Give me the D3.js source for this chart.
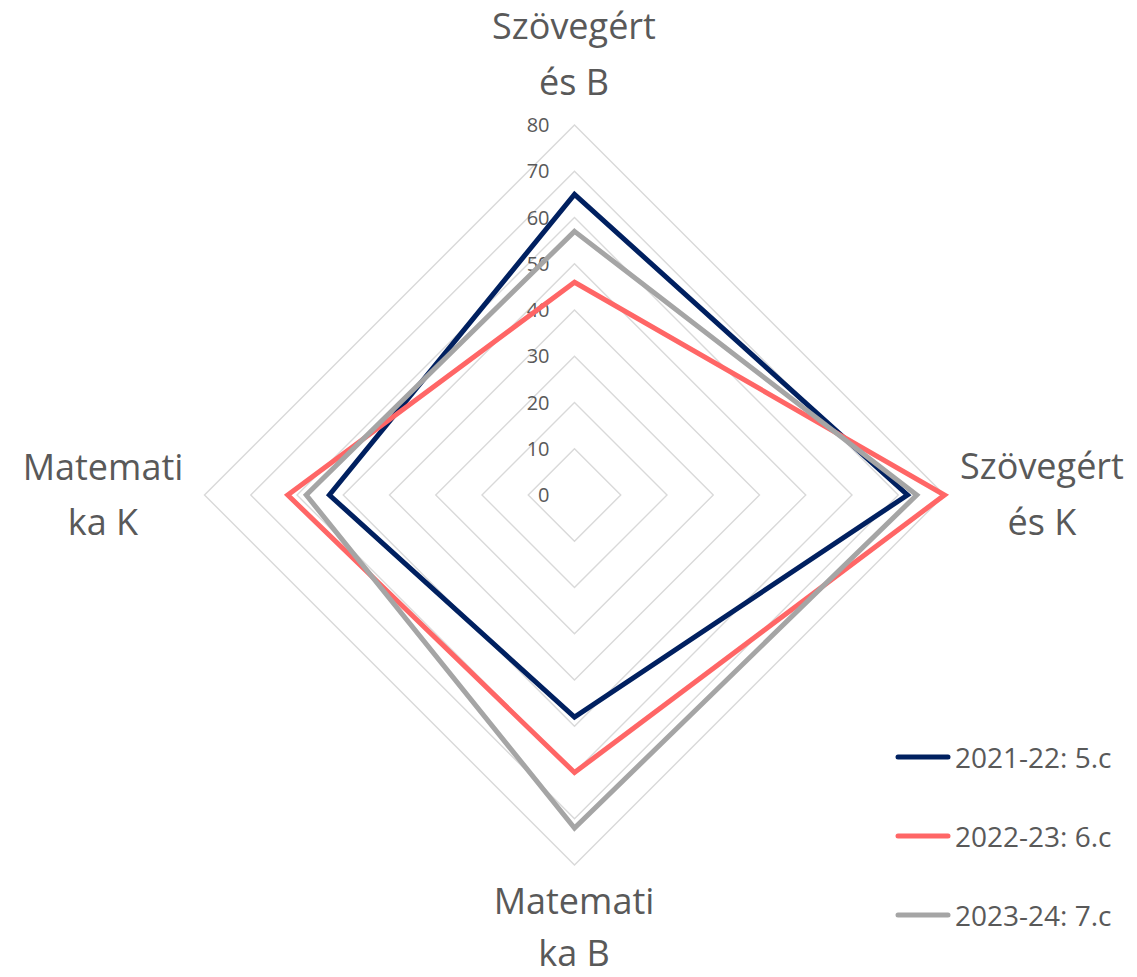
<!DOCTYPE html>
<html>
<head>
<meta charset="utf-8">
<script src="https://cdn.jsdelivr.net/npm/d3@7"></script>
<style>
  html, body { margin: 0; padding: 0; background: #fff; }
  svg { display: block; }
  text { font-family: "Open Sans", "Noto Sans", sans-serif; fill: #595959; }
</style>
</head>
<body>
<svg id="chart" width="1137" height="977"></svg>
<script>
// ---- data ----
const axisLabels = [["Szövegért", "és B"], ["Szövegért", "és K"], ["Matemati", "ka B"], ["Matemati", "ka K"]];
const seriesNames = ["2021-22: 5.c", "2022-23: 6.c", "2023-24: 7.c"];
const series2021 = [65, 72, 48, 53];
const series2022 = [46, 80, 60, 62];
const series2023 = [57, 74, 72, 58];
const tickValues = [0, 10, 20, 30, 40, 50, 60, 70, 80];
const seriesColors = ["#002060", "#FF6666", "#A5A5A5"];

const allSeries = [series2021, series2022, series2023];

// ---- layout ----
const svg = d3.select("#chart");
const cx = 574.5, cy = 495, R = 370;
const r = d3.scaleLinear().domain([0, 80]).range([0, R]);
const angle = d3.scaleLinear().domain([0, axisLabels.length]).range([0, 2 * Math.PI]);
const pt = (i, v) => [cx + r(v) * Math.sin(angle(i)), cy - r(v) * Math.cos(angle(i))];

const g = svg.append("g");

// grid diamonds
const line = d3.line().curve(d3.curveLinearClosed);
g.selectAll("path.grid")
  .data(tickValues.filter(v => v > 0))
  .join("path")
  .attr("class", "grid")
  .attr("d", v => line(axisLabels.map((_, i) => pt(i, v))))
  .attr("fill", "none")
  .attr("stroke", "#D9D9D9")
  .attr("stroke-width", 1.4);

// tick labels
g.selectAll("text.tick")
  .data(tickValues)
  .join("text")
  .attr("class", "tick")
  .attr("x", cx - 25)
  .attr("y", v => cy - r(v))
  .attr("dy", "0.35em")
  .attr("text-anchor", "end")
  .attr("font-size", 20)
  .text(v => v);

// series polygons
g.selectAll("path.series")
  .data(allSeries)
  .join("path")
  .attr("class", "series")
  .attr("d", s => line(s.map((v, i) => pt(i, v))))
  .attr("fill", "none")
  .attr("stroke", (s, k) => seriesColors[k])
  .attr("stroke-width", 5)
  .attr("stroke-linejoin", "miter");

// axis labels
const labelPos = [
  { x: 574, y: [39, 95] },
  { x: 1042, y: [479, 535] },
  { x: 574, y: [914, 966] },
  { x: 103, y: [480, 535] }
];
axisLabels.forEach((lines, i) => {
  const t = g.append("text").attr("text-anchor", "middle").attr("font-size", 36);
  lines.forEach((ln, j) => {
    t.append("tspan").attr("x", labelPos[i].x).attr("y", labelPos[i].y[j]).text(ln);
  });
});

// legend
const legend = g.append("g");
const legY = [757, 836, 915];
seriesNames.forEach((name, k) => {
  legend.append("line")
    .attr("x1", 898).attr("x2", 948)
    .attr("y1", legY[k]).attr("y2", legY[k])
    .attr("stroke", seriesColors[k])
    .attr("stroke-width", 5)
    .attr("stroke-linecap", "round");
  legend.append("text")
    .attr("x", 955).attr("y", legY[k] + 10.5)
    .attr("font-size", 28)
    .text(name);
});
</script>
</body>
</html>
